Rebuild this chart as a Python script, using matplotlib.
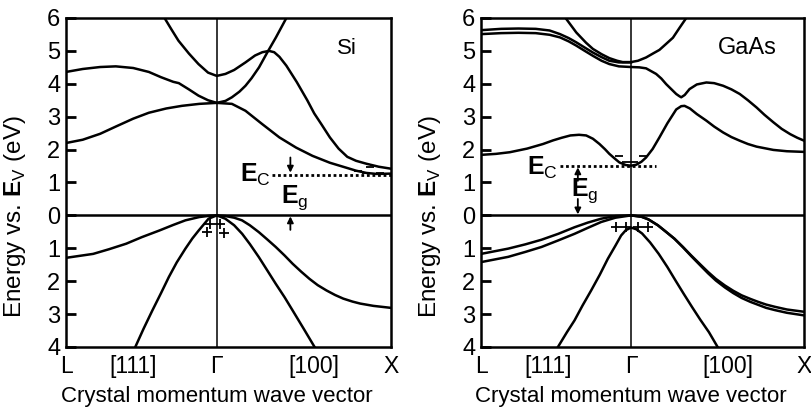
import matplotlib
matplotlib.use("Agg")
import matplotlib.pyplot as plt
from matplotlib.ticker import FuncFormatter

plt.rcParams["font.family"] = ["Liberation Sans", "DejaVu Sans"]
plt.rcParams["mathtext.fontset"] = "custom"
plt.rcParams["mathtext.rm"] = "Liberation Sans"
plt.rcParams["mathtext.bf"] = "Liberation Sans:bold"

# k axis: L at -0.866, Gamma at 0, X at 1
tick_pos = [-0.866, -0.48, 0.0, 0.56, 1.0]
tick_labels = ["L", "[111]", "\u0393", "[100]", "X"]

# ---------------- Si bands ----------------
si_k_c1 = [-0.30, -0.26, -0.22, -0.16, -0.105, -0.05, 0.0, 0.05, 0.10, 0.165, 0.22, 0.262, 0.30,
           0.33, 0.36, 0.40, 0.46, 0.52, 0.56, 0.60, 0.65, 0.70, 0.75, 0.80, 0.86, 0.93, 1.0]
si_e_c1 = [6.0, 5.65, 5.31, 4.92, 4.60, 4.34, 4.24, 4.30, 4.42, 4.65, 4.86, 4.96, 5.0,
           4.96, 4.82, 4.55, 4.05, 3.50, 3.10, 2.78, 2.37, 2.03, 1.78, 1.66, 1.57, 1.48, 1.42]

si_k_c2 = [-0.866, -0.77, -0.67, -0.58, -0.48, -0.39, -0.29, -0.20, -0.10, 0.0,
           0.05, 0.087, 0.13, 0.165, 0.20, 0.243, 0.29, 0.34, 0.40]
si_e_c2 = [2.20, 2.30, 2.48, 2.70, 2.94, 3.12, 3.25, 3.33, 3.39, 3.42,
           3.48, 3.59, 3.76, 3.94, 4.17, 4.50, 4.95, 5.41, 6.0]

si_k_c3 = [-0.866, -0.77, -0.67, -0.58, -0.48, -0.39, -0.32, -0.25, -0.218, -0.16, -0.105, -0.05, 0.0,
           0.087, 0.165, 0.26, 0.36, 0.456, 0.55, 0.65, 0.75, 0.80, 0.86, 0.92, 1.0]
si_e_c3 = [4.36, 4.45, 4.51, 4.53, 4.48, 4.36, 4.20, 4.06, 4.02, 3.83, 3.64, 3.50, 3.42,
           3.39, 3.18, 2.78, 2.37, 2.06, 1.81, 1.60, 1.44, 1.36, 1.29, 1.26, 1.27]

si_k_v1 = [-0.866, -0.71, -0.62, -0.52, -0.43, -0.33, -0.25, -0.18, -0.10, -0.04, 0.0, 0.05, 0.10,
           0.145, 0.19, 0.242, 0.29, 0.339, 0.39, 0.436, 0.485, 0.533, 0.58, 0.63, 0.68, 0.727,
           0.78, 0.824, 0.90, 1.0]
si_e_v1 = [-1.29, -1.17, -1.03, -0.86, -0.66, -0.46, -0.29, -0.15, -0.05, -0.01, 0.0, -0.02, -0.07,
           -0.15, -0.30, -0.51, -0.73, -0.96, -1.22, -1.47, -1.71, -1.93, -2.12, -2.28, -2.42, -2.53,
           -2.62, -2.68, -2.75, -2.81]

si_k_v2 = [-0.468, -0.42, -0.37, -0.32, -0.275, -0.23, -0.18, -0.14, -0.104, -0.047, 0.0,
           0.049, 0.10, 0.146, 0.19, 0.242, 0.29, 0.339, 0.39, 0.436, 0.50, 0.562]
si_e_v2 = [-4.0, -3.44, -2.89, -2.36, -1.87, -1.43, -1.01, -0.70, -0.46, -0.10, 0.0,
           -0.10, -0.30, -0.56, -0.87, -1.27, -1.67, -2.08, -2.49, -2.89, -3.45, -4.0]

# ---------------- GaAs bands ----------------
ga_k_c1 = [-0.378, -0.316, -0.26, -0.22, -0.17, -0.125, -0.08, -0.048, 0.0, 0.04, 0.087,
           0.13, 0.164, 0.20, 0.242, 0.28, 0.319]
ga_e_c1 = [6.0, 5.56, 5.25, 5.06, 4.90, 4.78, 4.70, 4.66, 4.66, 4.70, 4.80,
           4.93, 5.03, 5.20, 5.40, 5.70, 6.0]

ga_k_c2 = [-0.866, -0.75, -0.65, -0.55, -0.47, -0.41, -0.36, -0.316, -0.27, -0.22, -0.17,
           -0.125, -0.07, 0.0]
ga_e_c2 = [5.63, 5.67, 5.68, 5.67, 5.62, 5.51, 5.39, 5.26, 5.11, 4.95, 4.81,
           4.70, 4.65, 4.65]

ga_k_c3 = [-0.866, -0.75, -0.65, -0.55, -0.47, -0.41, -0.36, -0.316, -0.27, -0.22, -0.17, -0.125,
           -0.07, 0.0, 0.048, 0.087, 0.145, 0.175, 0.203, 0.232, 0.261, 0.28, 0.29, 0.31, 0.338,
           0.38, 0.435, 0.48, 0.532, 0.58, 0.628, 0.675, 0.725, 0.77, 0.822, 0.87, 0.919, 0.96, 1.0]
ga_e_c3 = [5.51, 5.54, 5.55, 5.54, 5.49, 5.41, 5.29, 5.16, 5.01, 4.85, 4.70, 4.60,
           4.53, 4.51, 4.50, 4.47, 4.30, 4.16, 3.99, 3.84, 3.69, 3.62, 3.59, 3.66, 3.84,
           3.98, 4.04, 4.02, 3.94, 3.83, 3.69, 3.50, 3.28, 3.06, 2.83, 2.63, 2.47, 2.36, 2.27]

ga_k_c4 = [-0.866, -0.78, -0.70, -0.60, -0.508, -0.45, -0.40, -0.35, -0.30, -0.259, -0.22, -0.182,
           -0.15, -0.125, -0.09, -0.067, -0.03, 0.0, 0.03, 0.06, 0.087, 0.125, 0.164, 0.21, 0.261,
           0.29, 0.309, 0.34, 0.38, 0.435, 0.48, 0.532, 0.58, 0.628, 0.675, 0.725, 0.822, 0.90, 1.0]
ga_e_c4 = [1.84, 1.87, 1.92, 2.03, 2.17, 2.28, 2.36, 2.43, 2.45, 2.43, 2.33, 2.17,
           2.01, 1.87, 1.71, 1.61, 1.53, 1.51, 1.54, 1.63, 1.76, 2.02, 2.37, 2.80, 3.22,
           3.32, 3.33, 3.25, 3.08, 2.88, 2.70, 2.52, 2.38, 2.27, 2.17, 2.09, 1.99, 1.95, 1.93]

ga_k_v = [-0.866, -0.709, -0.61, -0.517, -0.42, -0.326, -0.25, -0.172, -0.09, 0.0,
          0.06, 0.10, 0.155, 0.20, 0.251, 0.30, 0.348, 0.40, 0.445, 0.49, 0.542, 0.59,
          0.639, 0.69, 0.735, 0.78, 0.832, 0.90, 1.0]
ga_e_v1 = [-1.17, -1.01, -0.88, -0.74, -0.56, -0.36, -0.22, -0.10, -0.02, 0.0,
           -0.04, -0.12, -0.30, -0.49, -0.71, -0.96, -1.22, -1.49, -1.72, -1.93, -2.13, -2.29,
           -2.43, -2.54, -2.63, -2.71, -2.78, -2.86, -2.93]
ga_e_v2 = [-1.42, -1.26, -1.11, -0.96, -0.76, -0.56, -0.38, -0.20, -0.07, 0.0,
           -0.04, -0.12, -0.30, -0.49, -0.71, -0.97, -1.24, -1.52, -1.76, -1.98, -2.19, -2.36,
           -2.51, -2.63, -2.72, -2.81, -2.88, -2.96, -3.04]

ga_k_v3 = [-0.422, -0.37, -0.326, -0.28, -0.23, -0.18, -0.134, -0.09, -0.057, -0.03, 0.0,
           0.03, 0.064, 0.11, 0.16, 0.21, 0.257, 0.305, 0.353, 0.40, 0.45, 0.50]
ga_e_v3 = [-4.0, -3.55, -3.19, -2.74, -2.28, -1.80, -1.32, -0.92, -0.61, -0.45, -0.37,
           -0.42, -0.55, -0.82, -1.17, -1.57, -1.98, -2.39, -2.79, -3.17, -3.55, -4.0]

# carriers
si_minus_k = [0.81, 0.88, 0.86, 0.94]
si_minus_e = [1.36, 1.46, 1.30, 1.30]
si_plus_k = [-0.038, 0.02, -0.057, 0.043]
si_plus_e = [-0.25, -0.25, -0.50, -0.53]
ga_minus_k = [-0.067, 0.067, -0.03, 0.02]
ga_minus_e = [1.81, 1.81, 1.61, 1.61]
ga_plus_k = [-0.086, -0.03, 0.038, 0.097]
ga_plus_e = [-0.36, -0.36, -0.36, -0.36]

si_ec = 1.24
ga_ec = 1.49

fig = plt.figure(figsize=(8.12, 4.09), dpi=100)
ax1 = fig.add_axes([0.0813, 0.1516, 0.400, 0.8044])
ax2 = fig.add_axes([0.5924, 0.1516, 0.398, 0.8044])

lw = 1.8


def setup(ax):
    ax.set_xlim(-0.866, 1.0)
    ax.set_ylim(-4, 6)
    ax.set_yticks(range(-4, 7))
    ax.yaxis.set_major_formatter(FuncFormatter(lambda v, p: "%d" % abs(v)))
    ax.set_xticks(tick_pos)
    ax.set_xticklabels(tick_labels)
    ax.tick_params(axis="y", direction="in", length=7, width=2, labelsize=17, pad=4)
    ax.tick_params(axis="x", length=0, labelsize=16.5, pad=6)
    for s in ax.spines.values():
        s.set_linewidth(1.8)
    ax.axhline(0, color="black", lw=1.8)
    ax.axvline(0, color="black", lw=1.1)
    ax.set_xlabel("Crystal momentum wave vector", fontsize=16)
    ax.xaxis.set_label_coords(0.465, -0.118)
    ax.set_ylabel(r"Energy vs. $\mathbf{E}_{\mathrm{V}}$ (eV)", fontsize=17.5)
    ax.yaxis.set_label_coords(-0.118, 0.395)


def arrow(ax, k, tail, tip):
    ax.annotate("", xy=(k, tip), xytext=(k, tail),
                arrowprops=dict(arrowstyle="-|>", color="black", lw=1.3,
                                mutation_scale=9, shrinkA=0, shrinkB=0))


# Si panel
setup(ax1)
for kk, ee in [(si_k_c1, si_e_c1), (si_k_c2, si_e_c2), (si_k_c3, si_e_c3),
               (si_k_v1, si_e_v1), (si_k_v2, si_e_v2)]:
    ax1.plot(kk, ee, color="black", lw=lw, solid_joinstyle="round")
ax1.plot([0.316, 1.0], [si_ec, si_ec], color="black", lw=2, linestyle=(0, (1, 1)))
ax1.plot(si_minus_k, si_minus_e, linestyle="none", marker="_", ms=6, mew=1.3, color="black")
ax1.plot(si_plus_k, si_plus_e, linestyle="none", marker="+", ms=7, mew=1.3, color="black")
arrow(ax1, 0.423, 1.76, 1.30)
arrow(ax1, 0.423, -0.44, -0.03)
ax1.text(0.31, si_ec, r"$\mathbf{E}_{\mathrm{C}}$", fontsize=18, ha="right", va="center")
ax1.text(0.37, 0.55, r"$\mathbf{E}_{\mathrm{g}}$", fontsize=18, ha="left", va="center")
ax1.text(0.745, 5.06, "Si", fontsize=16, ha="center", va="center")

# GaAs panel
setup(ax2)
for kk, ee in [(ga_k_c1, ga_e_c1), (ga_k_c2, ga_e_c2), (ga_k_c3, ga_e_c3), (ga_k_c4, ga_e_c4),
               (ga_k_v, ga_e_v1), (ga_k_v, ga_e_v2), (ga_k_v3, ga_e_v3)]:
    ax2.plot(kk, ee, color="black", lw=lw, solid_joinstyle="round")
ax2.plot([-0.412, 0.145], [ga_ec, ga_ec], color="black", lw=2, linestyle=(0, (1, 1)))
ax2.plot(ga_minus_k, ga_minus_e, linestyle="none", marker="_", ms=6, mew=1.3, color="black")
ax2.plot(ga_plus_k, ga_plus_e, linestyle="none", marker="+", ms=7, mew=1.3, color="black")
arrow(ax2, -0.307, 1.05, 1.46)
arrow(ax2, -0.307, 0.50, 0.03)
ax2.text(-0.42, ga_ec - 0.05, r"$\mathbf{E}_{\mathrm{C}}$", fontsize=18, ha="right", va="center")
ax2.text(-0.345, 0.76, r"$\mathbf{E}_{\mathrm{g}}$", fontsize=18, ha="left", va="center")
ax2.text(0.672, 5.1, "GaAs", fontsize=17, ha="center", va="center")

fig.savefig("out.png", dpi=100)
